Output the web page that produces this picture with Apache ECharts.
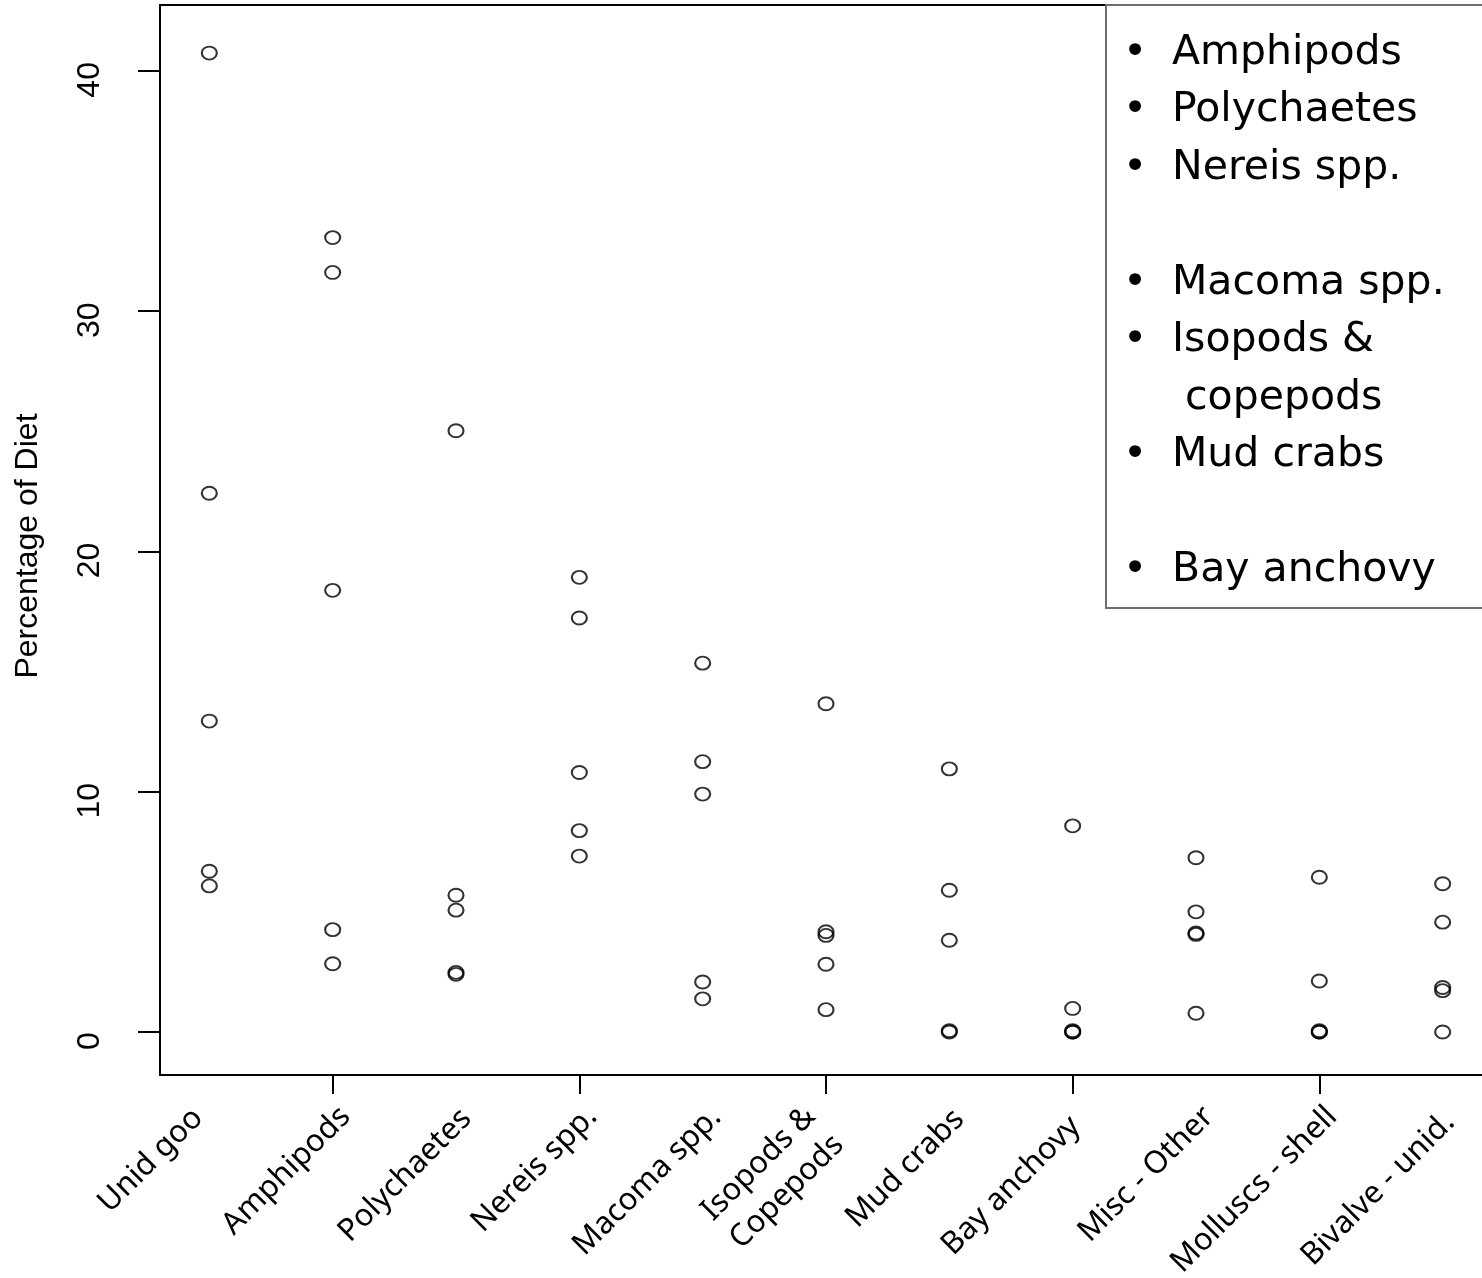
<!DOCTYPE html>
<html>
<head>
<meta charset="utf-8">
<script src="https://cdn.jsdelivr.net/npm/echarts@6/dist/echarts.min.js"></script>
<style>
html,body{margin:0;padding:0;background:#fff;}
#chart{width:1482px;height:1278px;}
</style>
</head>
<body>
<div id="chart"></div>
<script>
// ---- data ----
const categories = ['Unid goo', 'Amphipods', 'Polychaetes', 'Nereis spp.', 'Macoma spp.',
  'Isopods &\nCopepods', 'Mud crabs', 'Bay anchovy', 'Misc - Other', 'Molluscs - shell', 'Bivalve - unid.'];
const unidGoo     = [40.74, 22.42, 12.94, 6.69, 6.08];
const amphipods   = [33.06, 31.61, 18.38, 4.26, 2.84];
const polychaetes = [25.02, 5.69, 5.07, 2.48, 2.40];
const nereis      = [18.92, 17.23, 10.80, 8.38, 7.32];
const macoma      = [15.35, 11.25, 9.90, 2.08, 1.38];
const isopods     = [13.66, 4.17, 4.02, 2.82, 0.93];
const mudCrabs    = [10.95, 5.90, 3.82, 0.05, 0.0];
const bayAnchovy  = [8.58, 0.98, 0.05, 0.0, 0.0];
const miscOther   = [7.25, 5.00, 4.12, 4.06, 0.78];
const molluscs    = [6.44, 2.12, 0.05, 0.0, 0.0];
const bivalve     = [6.17, 4.57, 1.85, 1.72, 0.0];
const yTicks = [0, 10, 20, 30, 40];
const xTickPositions = [2, 4, 6, 8, 10];
const legendLines = ['Amphipods', 'Polychaetes', 'Nereis spp.', '', 'Macoma spp.', 'Isopods &', ' copepods', 'Mud crabs', '', 'Bay anchovy'];
const legendBullets = [true, true, true, false, true, true, false, true, false, true];

// per-label text nudges (style only, px): back along the baseline / away from the axis
const labelBack = [18, 0, 3, 0, 0, 20, 4, 14, 0, 0, 8];
const labelDrop = [4, 36, 36, 36, 38, 36, 36, 36, 36, 36, 36];

const groups = [unidGoo, amphipods, polychaetes, nereis, macoma, isopods, mudCrabs, bayAnchovy, miscOther, molluscs, bivalve];
const points = [];
groups.forEach((arr, i) => arr.forEach(v => points.push([i + 1, v])));
const catPositions = categories.map((c, i) => i + 1);

const rich = {};
categories.forEach((c, i) => {
  rich['n' + i] = {fontSize: 31, fontFamily: '"Noto Sans"', color: '#000', lineHeight: 40,
    padding: [labelDrop[i], labelBack[i], 0, 0]};
});

// legend text block (graphic)
const legendChildren = [{
  type: 'rect', shape: {x: 0, y: 0, width: 420, height: 603},
  style: {fill: '#fff', stroke: '#6e6e6e', lineWidth: 2}
}];
legendLines.forEach((t, i) => {
  const y = 48 + i * 57.5;
  if (legendBullets[i]) {
    legendChildren.push({type: 'text', x: 29, y: y, style: {text: '•', font: '41px "DejaVu Sans"', fill: '#000', align: 'center', verticalAlign: 'middle'}});
  }
  if (t) {
    legendChildren.push({type: 'text', x: 66, y: y, style: {text: t, font: '41px "DejaVu Sans"', fill: '#000', align: 'left', verticalAlign: 'middle'}});
  }
});

const chart = echarts.init(document.getElementById('chart'), null, {renderer: 'canvas'});
chart.setOption({
  animation: false,
  backgroundColor: '#fff',
  grid: {left: 160, top: 5, width: 1332, height: 1070, outerBoundsMode: 'none', containLabel: false,
    show: true, borderColor: '#000', borderWidth: 2, backgroundColor: 'transparent'},
  xAxis: {
    type: 'value', min: 0.6, max: 11.4,
    axisLine: {show: false, onZero: false}, splitLine: {show: false},
    axisTick: {show: true, customValues: xTickPositions, length: 19, lineStyle: {color: '#000', width: 2}},
    axisLabel: {
      customValues: catPositions, rotate: 45, margin: 24,
      fontSize: 31, fontFamily: '"Noto Sans"', color: '#000', align: 'right',
      formatter: v => {
        const i = Math.round(v) - 1;
        const c = categories[i];
        if (!c) return '';
        return c.split('\n').map(s => '{n' + i + '|' + s + '}').join('\n');
      },
      rich: rich
    }
  },
  yAxis: {
    type: 'value', min: -1.79, max: 42.74,
    axisLine: {show: false, onZero: false}, splitLine: {show: false},
    axisTick: {show: true, customValues: yTicks, length: 22, lineStyle: {color: '#000', width: 2}},
    axisLabel: {customValues: yTicks, rotate: 90, margin: 54, fontSize: 32, fontFamily: '"Liberation Sans"', color: '#000',
      padding: [0, 18, 0, 0]},
    name: 'Percentage of Diet', nameLocation: 'middle', nameRotate: 90, nameGap: 116,
    nameTextStyle: {fontSize: 32, fontFamily: '"Liberation Sans"', color: '#000', padding: [0, 12, 0, 0]}
  },
  series: [{
    type: 'scatter', data: points, symbol: 'circle', symbolSize: [15, 13],
    itemStyle: {color: 'rgba(0,0,0,0)', borderColor: '#000', borderWidth: 2},
    z: 3
  }],
  graphic: [{type: 'group', x: 1106, y: 5, z: 10, children: legendChildren}]
});
</script>
</body>
</html>
